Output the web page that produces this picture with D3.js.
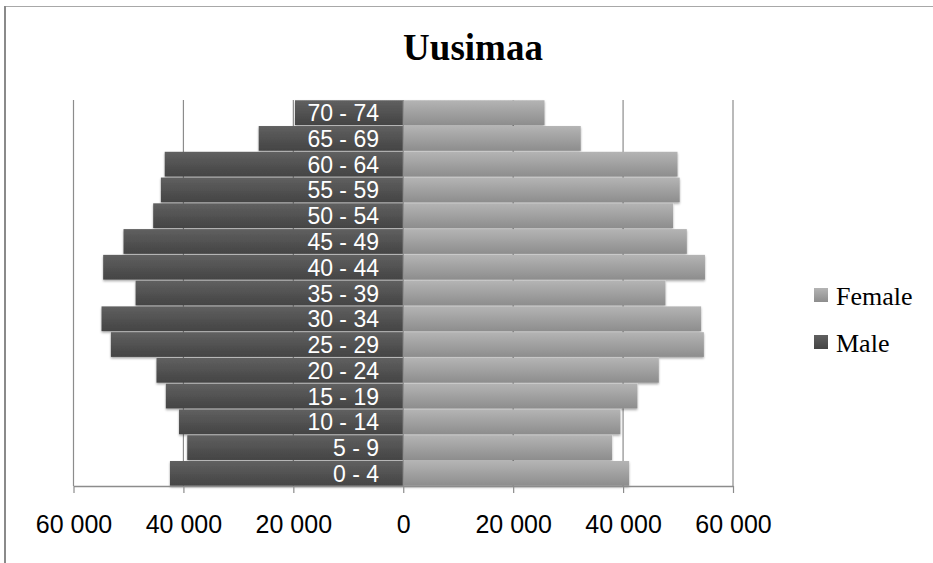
<!DOCTYPE html>
<html>
<head>
<meta charset="utf-8">
<script src="https://cdn.jsdelivr.net/npm/d3@7"></script>
<style>
  body { margin: 0; background: #fff; }
  svg { display: block; }
</style>
</head>
<body>
<div id="chart"></div>
<script>
// age groups, bottom to top
var ages = ["0 - 4", "5 - 9", "10 - 14", "15 - 19", "20 - 24", "25 - 29", "30 - 34",
  "35 - 39", "40 - 44", "45 - 49", "50 - 54", "55 - 59", "60 - 64", "65 - 69", "70 - 74"];
var male = [42450, 39300, 40800, 43200, 44900, 53200, 54900,
  48700, 54600, 50900, 45500, 44100, 43400, 26300, 19700];
var female = [41100, 38000, 39500, 42600, 46500, 54700, 54200,
  47700, 54900, 51600, 49100, 50300, 49900, 32300, 25700];
var tickValues = [-60000, -40000, -20000, 0, 20000, 40000, 60000];
var gridValues = [-60000, -40000, -20000, 20000, 40000, 60000];
var seriesNames = ["Female", "Male"];

var width = 933, height = 563;
var plot = { top: 100, bottom: 486, left: 73.5, right: 733 };

var svg = d3.select("#chart").append("svg")
  .attr("width", width)
  .attr("height", height);

var defs = svg.append("defs");

function addGradient(id, top, bottom) {
  var g = defs.append("linearGradient")
    .attr("id", id)
    .attr("x1", 0).attr("y1", 0).attr("x2", 0).attr("y2", 1);
  g.append("stop").attr("offset", "0%").attr("stop-color", top);
  g.append("stop").attr("offset", "100%").attr("stop-color", bottom);
}
addGradient("grad-male", "#606060", "#444444");
addGradient("grad-female", "#b4b4b4", "#8d8d8d");

defs.append("filter")
  .attr("id", "shadow")
  .attr("x", "-10%").attr("y", "-30%").attr("width", "120%").attr("height", "170%")
  .append("feDropShadow")
  .attr("dx", 0).attr("dy", 1.5)
  .attr("stdDeviation", 1.2)
  .attr("flood-color", "#000")
  .attr("flood-opacity", 0.35);

var fill = { Male: "url(#grad-male)", Female: "url(#grad-female)" };

// outer frame (only top and left visible in the picture)
svg.append("line")
  .attr("x1", 5).attr("x2", width).attr("y1", 6.5).attr("y2", 6.5)
  .style("stroke", "#a8a8a8").style("stroke-width", 1.2);
svg.append("line")
  .attr("x1", 5).attr("x2", 5).attr("y1", 6).attr("y2", height)
  .style("stroke", "#8a8a8a").style("stroke-width", 2);

svg.append("text")
  .attr("x", 473)
  .attr("y", 60)
  .style("font-family", "'Liberation Serif', serif")
  .style("font-weight", "bold")
  .style("font-size", "37px")
  .style("text-anchor", "middle")
  .style("fill", "#000")
  .text("Uusimaa");

var x = d3.scaleLinear()
  .domain([-60000, 60000])
  .range([plot.left, plot.right]);

var y = d3.scaleBand()
  .domain(ages.slice().reverse())
  .range([plot.top, plot.bottom])
  .paddingInner(0.04)
  .paddingOuter(0.01);

// gridlines
svg.append("g")
  .selectAll("line")
  .data(gridValues)
  .join("line")
  .attr("x1", d => x(d)).attr("x2", d => x(d))
  .attr("y1", plot.top).attr("y2", plot.bottom)
  .style("stroke", "#8c8c8c")
  .style("stroke-width", 1.2);

var rows = ages.map((a, i) => ({ age: a, male: male[i], female: female[i] }));

var bars = svg.append("g").style("filter", "url(#shadow)");

bars.selectAll(".bar-male")
  .data(rows)
  .join("rect")
  .attr("class", "bar-male")
  .attr("x", d => x(-d.male))
  .attr("y", d => y(d.age))
  .attr("width", d => x(0) - x(-d.male))
  .attr("height", y.bandwidth())
  .style("fill", fill.Male);

bars.selectAll(".bar-female")
  .data(rows)
  .join("rect")
  .attr("class", "bar-female")
  .attr("x", x(0))
  .attr("y", d => y(d.age))
  .attr("width", d => x(d.female) - x(0))
  .attr("height", y.bandwidth())
  .style("fill", fill.Female);

// category axis at zero
svg.append("line")
  .attr("x1", x(0)).attr("x2", x(0))
  .attr("y1", plot.top).attr("y2", plot.bottom)
  .style("stroke", "#8c8c8c")
  .style("stroke-width", 1.2);

svg.append("g")
  .selectAll("text")
  .data(rows)
  .join("text")
  .attr("x", 379)
  .attr("y", d => y(d.age) + y.bandwidth() / 2 + 8.5)
  .style("font-family", "'Liberation Sans', Arial, sans-serif")
  .style("font-size", "23px")
  .style("text-anchor", "end")
  .style("fill", "#fff")
  .text(d => d.age);

var locale = d3.formatLocale({ decimal: ",", thousands: " ", grouping: [3], currency: ["", ""] });
var fmt = locale.format(",");

var xAxis = svg.append("g")
  .attr("transform", "translate(0," + plot.bottom + ")")
  .call(d3.axisBottom(x)
    .tickValues(tickValues)
    .tickSize(7)
    .tickSizeOuter(0)
    .tickFormat(d => fmt(Math.abs(d))));

xAxis.select(".domain").style("stroke", "#8c8c8c").style("stroke-width", 1.5);
xAxis.selectAll(".tick line").style("stroke", "#8c8c8c").style("stroke-width", 1.2);
xAxis.selectAll(".tick text")
  .attr("y", 47)
  .attr("dy", 0)
  .style("font-family", "'Liberation Sans', Arial, sans-serif")
  .style("font-size", "25px")
  .style("fill", "#000");

// legend
var legend = svg.append("g")
  .selectAll("g")
  .data(seriesNames)
  .join("g")
  .attr("transform", (d, i) => "translate(814," + (288 + i * 47) + ")");

legend.append("rect")
  .attr("width", 14)
  .attr("height", 14)
  .style("fill", d => fill[d]);

legend.append("text")
  .attr("x", 22)
  .attr("y", 17)
  .style("font-family", "'Liberation Serif', serif")
  .style("font-size", "26px")
  .style("fill", "#000")
  .text(d => d);
</script>
</body>
</html>
